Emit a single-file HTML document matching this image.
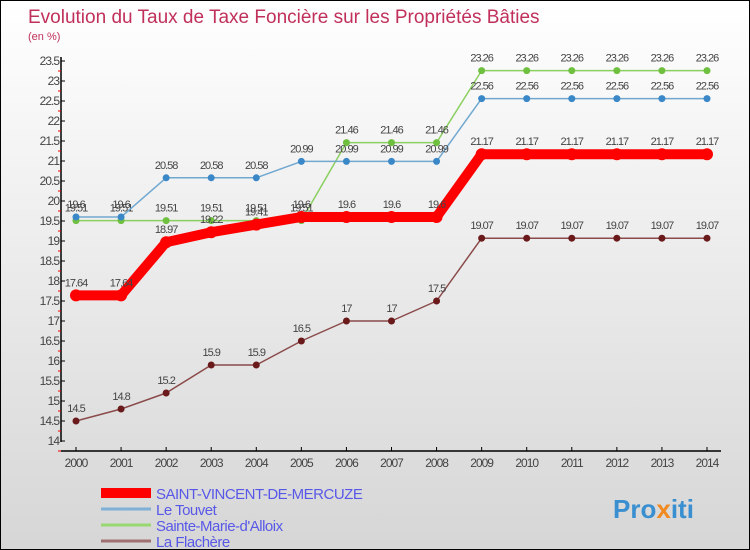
<!DOCTYPE html>
<html><head><meta charset="utf-8"><style>
body{margin:0;}
#c{width:750px;height:550px;position:relative;box-sizing:border-box;border:1px solid #000;background:linear-gradient(#fff,#d6d6d6);font-family:"Liberation Sans",sans-serif;overflow:hidden}
text{font-family:"Liberation Sans",sans-serif}
</style></head><body>
<div id="c">
<svg id="s" width="750" height="550">
<text x="27" y="22" font-size="19" fill="#c0305a">Evolution du Taux de Taxe Foncière sur les Propriétés Bâties</text>
<text x="27" y="39" font-size="11" fill="#c0305a">(en %)</text>
<text x="612" y="517" font-size="26" font-weight="bold" fill="#3a8fd0">Pro<tspan fill="#f08a20">x</tspan>iti</text>
</svg>
</div>
<script>
const years=[2000,2001,2002,2003,2004,2005,2006,2007,2008,2009,2010,2011,2012,2013,2014];
const yTicks=[14,14.5,15,15.5,16,16.5,17,17.5,18,18.5,19,19.5,20,20.5,21,21.5,22,22.5,23,23.5];
const sviValues=[17.64,17.64,18.97,19.22,19.41,19.6,19.6,19.6,19.6,21.17,21.17,21.17,21.17,21.17,21.17];
const touvetValues=[19.6,19.6,20.58,20.58,20.58,20.99,20.99,20.99,20.99,22.56,22.56,22.56,22.56,22.56,22.56];
const smaValues=[19.51,19.51,19.51,19.51,19.51,19.51,21.46,21.46,21.46,23.26,23.26,23.26,23.26,23.26,23.26];
const flachValues=[14.5,14.8,15.2,15.9,15.9,16.5,17,17,17.5,19.07,19.07,19.07,19.07,19.07,19.07];
const seriesNames=["SAINT-VINCENT-DE-MERCUZE","Le Touvet","Sainte-Marie-d'Alloix","La Flachère"];

const NS="http://www.w3.org/2000/svg";
const svg=document.getElementById('s');
const x=i=>75+i*(706-75)/(years.length-1);
const y=v=>60+(23.5-v)*40;
function el(t,a,p){const e=document.createElementNS(NS,t);for(const k in a)e.setAttribute(k,a[k]);(p||svg).appendChild(e);return e;}

// axes
let ax=el('line',{x1:60,y1:56,x2:60,y2:441,stroke:'#000','stroke-width':1.5});


let xa=el('line',{x1:60,y1:450,x2:720,y2:450,stroke:'#000','stroke-width':1.5});


yTicks.forEach(v=>{
  el('line',{x1:60,y1:y(v),x2:64,y2:y(v),stroke:'#000'});
  el('line',{x1:57,y1:y(v)+10,x2:60,y2:y(v)+10,stroke:'#e00'});
  const t=el('text',{x:58,y:y(v)+4,'font-size':12,fill:'#444','text-anchor':'end','letter-spacing':'-1'});
  t.textContent=String(v);
  
  
});
years.forEach((yr,i)=>{
  el('line',{x1:x(i),y1:446,x2:x(i),y2:450,stroke:'#000'});
  const t=el('text',{x:x(i),y:466,'font-size':12,fill:'#444','text-anchor':'middle','letter-spacing':'-1'});
  t.textContent=String(yr);
  
  
});

function series(vals,color,w,r,dot,name){
  const g=el('g',{});
  
  
  el('polyline',{points:vals.map((v,i)=>x(i)+','+y(v)).join(' '),fill:'none',stroke:color,'stroke-width':w,'stroke-linejoin':'round'},g);
  vals.forEach((v,i)=>{
    const c=el('circle',{cx:x(i),cy:y(v),r:r,fill:dot},g);
    
    
    const t=el('text',{x:x(i),y:y(v)-9,'font-size':11,fill:'#444','text-anchor':'middle','letter-spacing':'-1'},g);
    t.textContent=String(v);
  });
}
series(flachValues,'#8a4a4a',1.5,3.5,'#6a1a1a','la-flachere-series');
series(smaValues,'#8ad060',1.5,3.5,'#70c040','sainte-marie-series');
series(touvetValues,'#70a8d0',1.5,3.5,'#3a88c8','le-touvet-series');
series(sviValues,'#f00',10,6,'#f00','saint-vincent-series');

const lc=['#f00','#80b0d8','#98d870','#a07070'],lw=[10,3,3,3];
seriesNames.forEach((n,i)=>{
  const yy=492+i*16;
  const l=el('line',{x1:100,y1:yy,x2:150,y2:yy,stroke:lc[i],'stroke-width':lw[i]});
  
  
  const t=el('text',{x:155,y:yy+6,'font-size':15,fill:'#5858e8','letter-spacing':'-0.5'});
  t.textContent=n;
  
  
});
</script>
</body></html>
